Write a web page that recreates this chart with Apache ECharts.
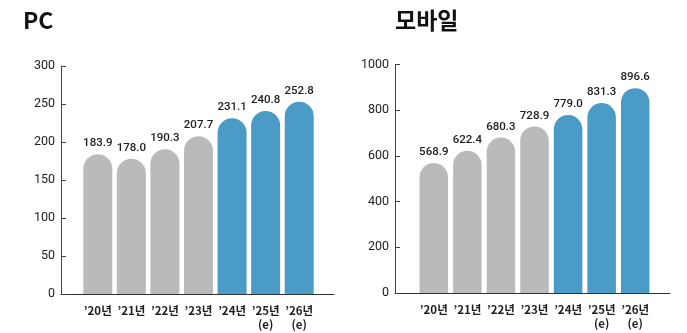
<!DOCTYPE html>
<html>
<head>
<meta charset="utf-8">
<script src="https://cdn.jsdelivr.net/npm/echarts@6/dist/echarts.min.js"></script>
<style>
  html, body { margin: 0; padding: 0; background: #fff; }
  #chart { width: 687px; height: 333px; }
</style>
</head>
<body>
<div id="chart"></div>
<script>
// Years on the x axis ('25 and '26 are estimates)
const categories = ['’20년', '’21년', '’22년', '’23년', '’24년', '’25년\n(e)', '’26년\n(e)'];
const pcValues = [183.9, 178.0, 190.3, 207.7, 231.1, 240.8, 252.8];
const mobileValues = [568.9, 622.4, 680.3, 728.9, 779.0, 831.3, 896.6];
const pcAxis = { min: 0, max: 300, interval: 50 };
const mobileAxis = { min: 0, max: 1000, interval: 200 };
const highlightFrom = 4; // bars from '24 on are drawn in blue

const GRAY = '#bababa';
const BLUE = '#4a9bc5';
const TEXT = '#1e1e1e';
const FONT = '"Noto Sans CJK KR", "Noto Sans", sans-serif';
const NUM_FONT = 'Roboto, "Noto Sans CJK KR", sans-serif';

const chart = echarts.init(document.getElementById('chart'), null, { renderer: 'canvas' });

function frameAxes(gridIndex, range) {
  return {
    x: {
      type: 'category', gridIndex, data: categories, boundaryGap: true,
      axisLine: { show: true, lineStyle: { color: '#333', width: 1 } },
      axisTick: { show: false }, axisLabel: { show: false }
    },
    y: {
      type: 'value', gridIndex, min: range.min, max: range.max, interval: range.interval,
      axisLine: { show: true, lineStyle: { color: '#444', width: 1 } },
      axisTick: { show: true, inside: true, length: 5, lineStyle: { color: '#444' } },
      splitLine: { show: false },
      axisLabel: {
        color: TEXT, fontFamily: NUM_FONT, fontSize: 12.5, margin: 6,
        formatter: v => String(v)
      }
    }
  };
}

function barAxes(gridIndex, range) {
  return {
    x: {
      type: 'category', gridIndex, data: categories, boundaryGap: true,
      axisLine: { show: false }, axisTick: { show: false },
      axisLabel: {
        color: TEXT, fontFamily: FONT, fontSize: 11.5, fontWeight: 'bold',
        lineHeight: 14, margin: 10, interval: 0
      }
    },
    y: {
      type: 'value', gridIndex, min: range.min, max: range.max, interval: range.interval,
      show: false, splitLine: { show: false }
    }
  };
}

function barSeries(axisIndex, values, width) {
  return {
    type: 'bar', xAxisIndex: axisIndex, yAxisIndex: axisIndex,
    data: values, barWidth: width,
    itemStyle: {
      color: p => (p.dataIndex >= highlightFrom ? BLUE : GRAY),
      borderRadius: [width / 2, width / 2, 0, 0]
    },
    label: {
      show: true, position: 'top', distance: 5,
      formatter: p => p.value.toFixed(1),
      color: TEXT, fontFamily: NUM_FONT, fontSize: 11.5, fontWeight: 500
    },
    silent: true
  };
}

const pcFrame = frameAxes(0, pcAxis);
const pcBars = barAxes(1, pcAxis);
const moFrame = frameAxes(2, mobileAxis);
const moBars = barAxes(3, mobileAxis);

chart.setOption({
  animation: false,
  backgroundColor: '#ffffff',
  title: [
    { text: 'PC', left: 23, top: 9, padding: 0, textStyle: { fontFamily: FONT, fontSize: 23, fontWeight: 'bold', color: '#111' } },
    { text: '모바일', left: 395, top: 9, padding: 0, textStyle: { fontFamily: FONT, fontSize: 23, fontWeight: 'bold', color: '#111' } }
  ],
  grid: [
    { left: 61, right: 353, top: 66, bottom: 39 },
    { left: 81, right: 371, top: 66, bottom: 39 },
    { left: 395, right: 17, top: 64.5, bottom: 40 },
    { left: 417, right: 35, top: 64.5, bottom: 40 }
  ],
  xAxis: [pcFrame.x, pcBars.x, moFrame.x, moBars.x],
  yAxis: [pcFrame.y, pcBars.y, moFrame.y, moBars.y],
  series: [
    { type: 'bar', xAxisIndex: 0, yAxisIndex: 0, data: [] },
    barSeries(1, pcValues, 29),
    { type: 'bar', xAxisIndex: 2, yAxisIndex: 2, data: [] },
    barSeries(3, mobileValues, 28.5)
  ]
});
</script>
</body>
</html>
